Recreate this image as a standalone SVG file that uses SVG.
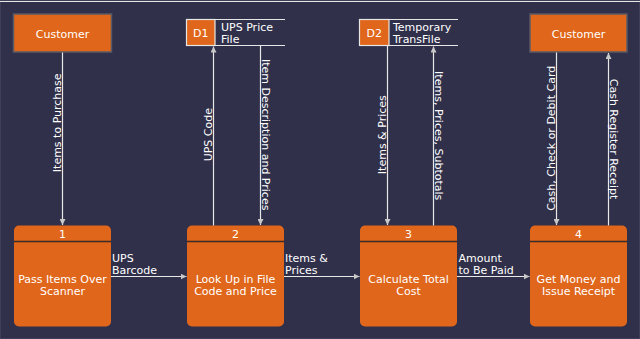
<svg xmlns="http://www.w3.org/2000/svg" width="640" height="339" viewBox="0 0 640 339">
<style>
text{font-family:"DejaVu Sans","Liberation Sans",sans-serif;fill:#ffffff;font-size:11px}
.ent{fill:#df661a;stroke:#5a5a66;stroke-width:1.5}
.proc{fill:#df661a}
.div{stroke:#3a2c28;stroke-width:1.5}
.store{fill:none;stroke:#e6e6e6;stroke-width:1.2}
.sid{fill:#df661a;stroke:#e6e6e6;stroke-width:1.2}
.flow{stroke:#e8e8e8;stroke-width:1.2;fill:none;marker-end:url(#arr)}
.c{text-anchor:middle}
</style>
<defs>
<marker id="arr" viewBox="0 0 10 10" refX="10" refY="5" markerWidth="6" markerHeight="6" markerUnits="userSpaceOnUse" orient="auto">
<path d="M0,0 L10,5 L0,10 z" fill="#c8c8c8"/>
</marker>
</defs>
<rect x="0.5" y="0.5" width="639" height="338" fill="#30304a" stroke="#3e3e58"/>
<line x1="0" y1="1.5" x2="640" y2="1.5" stroke="#e8e8e8" stroke-width="1.2"/>

<g id="customer1">
<rect class="ent" x="13.5" y="14" width="98" height="38"/>
<text class="c" x="62.5" y="38" font-size="12">Customer</text>
</g>
<g id="customer2">
<rect class="ent" x="530" y="14" width="97" height="38"/>
<text class="c" x="578.5" y="38" font-size="12">Customer</text>
</g>
<g id="d1">
<rect class="sid" x="186.5" y="19.5" width="28.5" height="26"/>
<path class="store" d="M186.5,19.5 H285 M186.5,45.5 H285"/>
<text class="c" x="200.8" y="37">D1</text>
<text x="221" y="31">UPS Price</text>
<text x="221" y="43">File</text>
</g>
<g id="d2">
<rect class="sid" x="359.5" y="19.5" width="29.5" height="26"/>
<path class="store" d="M359.5,19.5 H458 M359.5,45.5 H458"/>
<text class="c" x="374.3" y="37">D2</text>
<text x="393" y="31">Temporary</text>
<text x="393" y="43">TransFile</text>
</g>

<g id="p1">
<rect class="proc" x="14" y="225.5" width="97" height="101" rx="5"/>
<line class="div" x1="14" y1="241.5" x2="111" y2="241.5"/>
<text class="c" x="62.5" y="238">1</text>
<text class="c" x="62.5" y="282.5">Pass Items Over</text>
<text class="c" x="62.5" y="294.5">Scanner</text>
</g>
<g id="p2">
<rect class="proc" x="187" y="225.5" width="97" height="101" rx="5"/>
<line class="div" x1="187" y1="241.5" x2="284" y2="241.5"/>
<text class="c" x="235.5" y="238">2</text>
<text class="c" x="235.5" y="282.5">Look Up in File</text>
<text class="c" x="235.5" y="294.5">Code and Price</text>
</g>
<g id="p3">
<rect class="proc" x="360" y="225.5" width="97" height="101" rx="5"/>
<line class="div" x1="360" y1="241.5" x2="457" y2="241.5"/>
<text class="c" x="408.5" y="238">3</text>
<text class="c" x="408.5" y="282.5">Calculate Total</text>
<text class="c" x="408.5" y="294.5">Cost</text>
</g>
<g id="p4">
<rect class="proc" x="530" y="225.5" width="97" height="101" rx="5"/>
<line class="div" x1="530" y1="241.5" x2="627" y2="241.5"/>
<text class="c" x="578.5" y="238">4</text>
<text class="c" x="578.5" y="282.5">Get Money and</text>
<text class="c" x="578.5" y="294.5">Issue Receipt</text>
</g>

<g id="connectors">
<line class="flow" x1="62.5" y1="52.5" x2="62.5" y2="225"/>
<line class="flow" x1="213.5" y1="225.5" x2="213.5" y2="46.5"/>
<line class="flow" x1="260.5" y1="45.5" x2="260.5" y2="225"/>
<line class="flow" x1="387.5" y1="45.5" x2="387.5" y2="225"/>
<line class="flow" x1="433.5" y1="225.5" x2="433.5" y2="46.5"/>
<line class="flow" x1="556.5" y1="52.5" x2="556.5" y2="225"/>
<line class="flow" x1="608.5" y1="225.5" x2="608.5" y2="53"/>
<line class="flow" x1="111" y1="276.5" x2="186.5" y2="276.5"/>
<line class="flow" x1="284" y1="276.5" x2="359.5" y2="276.5"/>
<line class="flow" x1="457" y1="276.5" x2="529.5" y2="276.5"/>

<text class="c" transform="translate(61,122.8) rotate(-90)">Items to Purchase</text>
<text class="c" transform="translate(211.5,134.7) rotate(-90)">UPS Code</text>
<text class="c" transform="translate(262,134.7) rotate(90)">Item Description and Prices</text>
<text class="c" transform="translate(385.8,134.7) rotate(-90)">Items &amp; Prices</text>
<text class="c" transform="translate(434.5,135.7) rotate(90)">Items, Prices, Subtotals</text>
<text class="c" transform="translate(555,138.3) rotate(-90)">Cash, Check or Debit Card</text>
<text class="c" transform="translate(610,139) rotate(90)">Cash Register Receipt</text>

<text x="112" y="262">UPS</text>
<text x="112" y="273.5">Barcode</text>
<text x="285" y="262">Items &amp;</text>
<text x="285" y="273.5">Prices</text>
<text x="458.5" y="262">Amount</text>
<text x="458.5" y="273.5">to Be Paid</text>
</g>
</svg>
